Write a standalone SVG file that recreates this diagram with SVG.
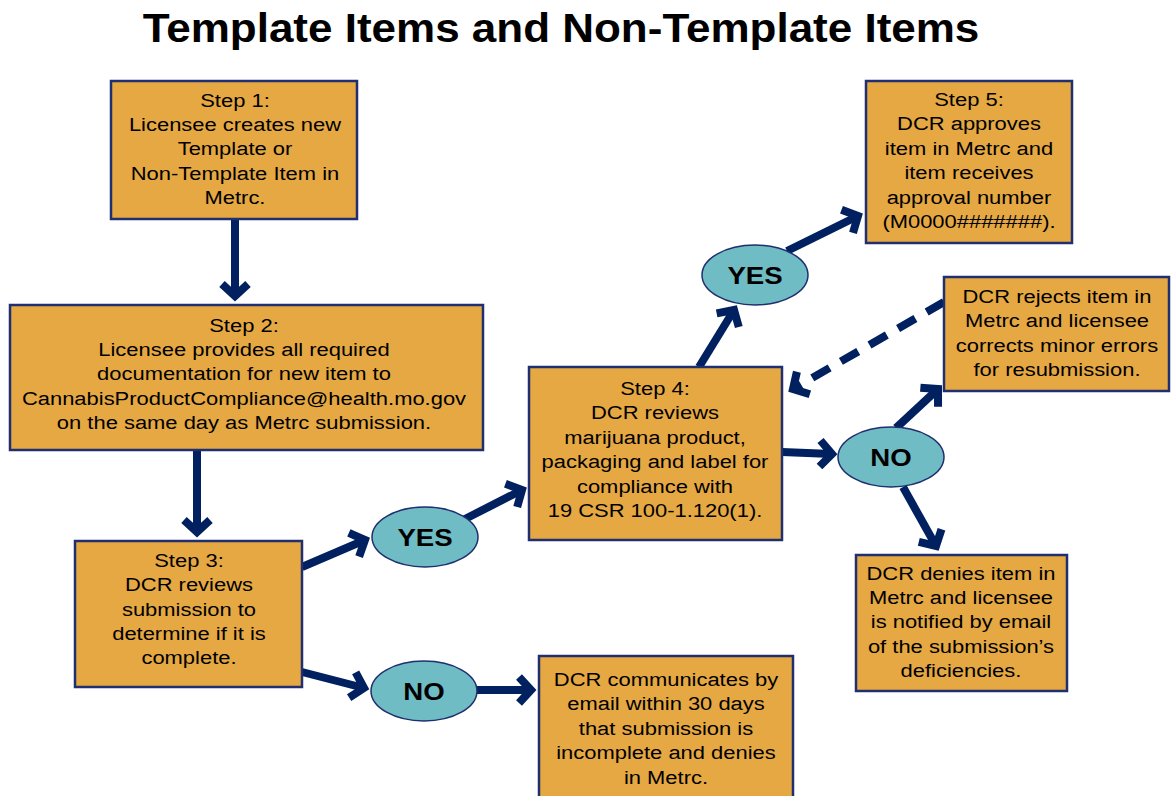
<svg xmlns="http://www.w3.org/2000/svg" width="1172" height="796" viewBox="0 0 1172 796">
<style>
.box{fill:#E5A843;stroke:#1F2F6F;stroke-width:2.5}
.ell{fill:#6FBCC4;stroke:#1F2F6F;stroke-width:1.5}
.t{font-family:"Liberation Sans",Arial,sans-serif;font-size:19px;fill:#000;text-anchor:middle}
.et{font-family:"Liberation Sans",Arial,sans-serif;font-size:24px;font-weight:bold;fill:#000;text-anchor:middle}
.title{font-family:"Liberation Sans",Arial,sans-serif;font-size:40px;font-weight:bold;fill:#000;text-anchor:middle}
.c{stroke:#002060;stroke-width:8;fill:none;marker-end:url(#ah)}
.d{stroke-dasharray:20 13}
</style>
<defs>
<marker id="ah" markerUnits="userSpaceOnUse" markerWidth="40" markerHeight="40" viewBox="-20 -20 40 40" refX="0" refY="0" orient="auto">
<path d="M-12,-13 L0,0 L-12,13" stroke="#002060" stroke-width="8" fill="none" stroke-linejoin="miter"/>
</marker>
</defs>
<rect width="1172" height="796" fill="#fff"/>
<text class="title" x="561" y="42" transform="matrix(1.1 0 0 1 -56.1 0)">Template Items and Non-Template Items</text>
<g id="connectors">
<line class="c" x1="235" y1="219" x2="235" y2="296"/>
<line class="c" x1="197" y1="450" x2="197" y2="532"/>
<line class="c" x1="302" y1="567" x2="365" y2="540"/>
<line class="c" x1="302" y1="672" x2="364" y2="688"/>
<line class="c" x1="463" y1="520" x2="522" y2="490"/>
<line class="c" x1="476" y1="690" x2="531" y2="690"/>
<line class="c" x1="699" y1="367" x2="734" y2="310"/>
<line class="c" x1="787" y1="251" x2="858" y2="216"/>
<line class="c d" x1="944" y1="302" x2="793" y2="389"/>
<line class="c" x1="782" y1="452" x2="832" y2="454"/>
<line class="c" x1="896" y1="428" x2="938" y2="389"/>
<line class="c" x1="903" y1="487" x2="936" y2="546"/>
</g>
<g id="step1">
<rect class="box" x="111" y="81" width="246" height="138"/>
<text class="t" transform="matrix(1.155 0 0 1 -36.43 0)"><tspan x="235" y="107">Step 1:</tspan><tspan x="235" y="131">Licensee creates new</tspan><tspan x="235" y="155">Template or</tspan><tspan x="235" y="180">Non-Template Item in</tspan><tspan x="235" y="204">Metrc.</tspan></text>
</g>
<g id="step2">
<rect class="box" x="10" y="305" width="473" height="145"/>
<text class="t" transform="matrix(1.155 0 0 1 -37.82 0)"><tspan x="244" y="332">Step 2:</tspan><tspan x="244" y="356">Licensee provides all required</tspan><tspan x="244" y="380">documentation for new item to</tspan><tspan x="244" y="405">CannabisProductCompliance@health.mo.gov</tspan><tspan x="244" y="429">on the same day as Metrc submission.</tspan></text>
</g>
<g id="step3">
<rect class="box" x="75" y="541" width="227" height="146"/>
<text class="t" transform="matrix(1.155 0 0 1 -29.3 0)"><tspan x="189" y="567">Step 3:</tspan><tspan x="189" y="591">DCR reviews</tspan><tspan x="189" y="616">submission to</tspan><tspan x="189" y="640">determine if it is</tspan><tspan x="189" y="664">complete.</tspan></text>
</g>
<g id="step4">
<rect class="box" x="529" y="367" width="253" height="173"/>
<text class="t" transform="matrix(1.155 0 0 1 -101.53 0)"><tspan x="655" y="395">Step 4:</tspan><tspan x="655" y="419">DCR reviews</tspan><tspan x="655" y="444">marijuana product,</tspan><tspan x="655" y="468">packaging and label for</tspan><tspan x="655" y="493">compliance with</tspan><tspan x="655" y="517">19 CSR 100-1.120(1).</tspan></text>
</g>
<g id="step5">
<rect class="box" x="866" y="81" width="206" height="162"/>
<text class="t" transform="matrix(1.155 0 0 1 -150.2 0)"><tspan x="969" y="106">Step 5:</tspan><tspan x="969" y="130">DCR approves</tspan><tspan x="969" y="155">item in Metrc and</tspan><tspan x="969" y="179">item receives</tspan><tspan x="969" y="204">approval number</tspan><tspan x="969" y="228">(M0000#######).</tspan></text>
</g>
<g id="reject">
<rect class="box" x="944" y="277" width="225" height="114"/>
<text class="t" transform="matrix(1.155 0 0 1 -163.84 0)"><tspan x="1057" y="303">DCR rejects item in</tspan><tspan x="1057" y="327">Metrc and licensee</tspan><tspan x="1057" y="352">corrects minor errors</tspan><tspan x="1057" y="376">for resubmission.</tspan></text>
</g>
<g id="deny">
<rect class="box" x="856" y="555" width="211" height="136"/>
<text class="t" transform="matrix(1.155 0 0 1 -148.96 0)"><tspan x="961" y="580">DCR denies item in</tspan><tspan x="961" y="604">Metrc and licensee</tspan><tspan x="961" y="628">is notified by email</tspan><tspan x="961" y="653">of the submission’s</tspan><tspan x="961" y="677">deficiencies.</tspan></text>
</g>
<g id="communicate">
<rect class="box" x="539" y="656" width="254" height="150"/>
<text class="t" transform="matrix(1.155 0 0 1 -103.23 0)"><tspan x="666" y="686">DCR communicates by</tspan><tspan x="666" y="710">email within 30 days</tspan><tspan x="666" y="735">that submission is</tspan><tspan x="666" y="759">incomplete and denies</tspan><tspan x="666" y="784">in Metrc.</tspan></text>
</g>
<g id="yes1">
<ellipse class="ell" cx="425" cy="537" rx="53" ry="30"/>
<text class="et" x="425" y="546" transform="matrix(1.15 0 0 1 -63.75 0)">YES</text>
</g>
<g id="no1">
<ellipse class="ell" cx="424" cy="691" rx="53" ry="30"/>
<text class="et" x="424" y="700" transform="matrix(1.15 0 0 1 -63.6 0)">NO</text>
</g>
<g id="yes2">
<ellipse class="ell" cx="755" cy="275" rx="53" ry="30"/>
<text class="et" x="755" y="284" transform="matrix(1.15 0 0 1 -113.25 0)">YES</text>
</g>
<g id="no2">
<ellipse class="ell" cx="891" cy="457" rx="53" ry="30"/>
<text class="et" x="891" y="466" transform="matrix(1.15 0 0 1 -133.65 0)">NO</text>
</g>
</svg>
